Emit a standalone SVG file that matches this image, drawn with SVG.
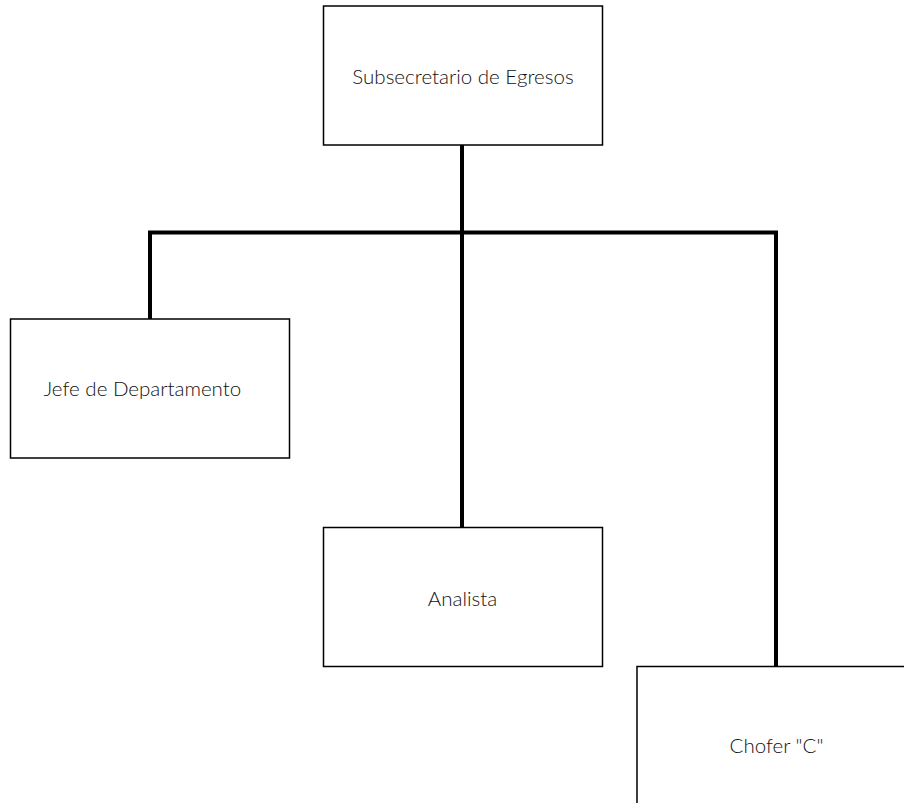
<svg xmlns="http://www.w3.org/2000/svg" width="904" height="803" viewBox="0 0 904 803">
<style>
.box{fill:#fff;stroke:#000;stroke-width:1.5}
.lbl{font-family:Lato,"Liberation Sans",sans-serif;font-size:20.5px;font-weight:300;fill:#111;text-anchor:middle;dominant-baseline:central}
.conn{fill:none;stroke:#000;stroke-width:4}
</style>
<rect width="904" height="803" fill="#fff"/>
<g id="connectors">
<path class="conn" d="M462,145 V527"/>
<path class="conn" d="M150,319 V232.5 H776 V666"/>
</g>
<g id="subsecretario"><rect class="box" x="323.5" y="6" width="279" height="139"/><text class="lbl" x="463" y="76">Subsecretario de Egresos</text></g>
<g id="jefe"><rect class="box" x="10.5" y="319" width="279" height="139"/><text class="lbl" x="142.5" y="388">Jefe de Departamento</text></g>
<g id="analista"><rect class="box" x="323.5" y="527.5" width="279" height="139"/><text class="lbl" x="462.5" y="598">Analista</text></g>
<g id="chofer"><rect class="box" x="637" y="666.5" width="280" height="139"/><text class="lbl" x="776.5" y="745">Chofer "C"</text></g>
</svg>
